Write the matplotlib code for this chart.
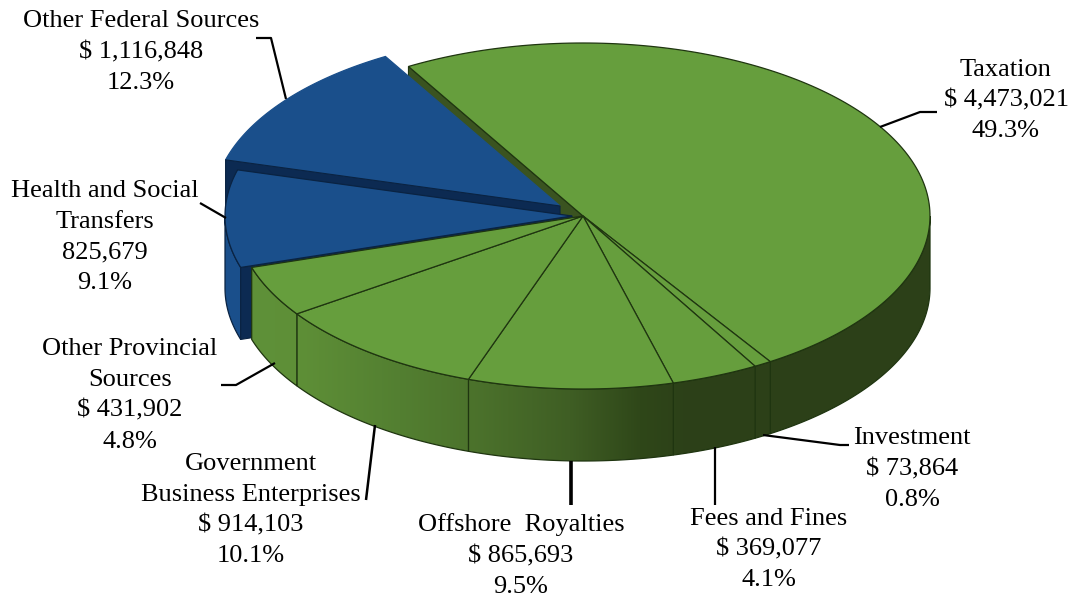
import numpy as np
import matplotlib
matplotlib.use("Agg")
import matplotlib.pyplot as plt
from matplotlib.colors import to_rgb
from matplotlib.patches import Polygon

plt.rcParams["font.family"] = ["Liberation Serif", "DejaVu Serif"]

# revenue by source, clockwise from the top of the pie
sources = ["Taxation", "Investment", "Fees and Fines", "Offshore  Royalties",
           "Government\nBusiness Enterprises", "Other Provincial\nSources",
           "Health and Social\nTransfers", "Other Federal Sources"]
amounts = [4473021, 73864, 369077, 865693, 914103, 431902, 825679, 1116848]
amount_labels = ["$ 4,473,021", "$ 73,864", "$ 369,077", "$ 865,693",
                 "$ 914,103", "$ 431,902", "825,679", "$ 1,116,848"]
shares = ["49.3%", "0.8%", "4.1%", "9.5%", "10.1%", "4.8%", "9.1%", "12.3%"]

# layout in pixels
CX, CY = 583, 216
RX, RY = 347, 173
DEPTH = 72
START = 120.2
HEALTH_C = (572, 216)
FEDERAL_C = (560, 206)

GREEN = "#669E3D"
BLUE = "#1A4F8B"
NAVY = "#0C2A52"
OLIVE = "#3A5320"
LINE_G = "#1F3510"
LINE_B = "#0A2342"

# side wall shading runs left to right across the pie
SHADE_X = [250, 300, 400, 470, 570, 640, 690, 935]
SHADE_C = ["#5F9139", "#5E8F37", "#537F31", "#4C732C", "#3F5E24", "#2F4719", "#2C4018", "#2D4119"]
shade_rgb = np.array([to_rgb(c) for c in SHADE_C])
grad_x = np.linspace(SHADE_X[0], SHADE_X[-1], 686)
gradient = np.dstack([np.interp(grad_x, SHADE_X, shade_rgb[:, i]) for i in range(3)])


def rim(c, t0, t1, n=160):
    t = np.radians(np.linspace(t0, t1, n))
    return np.column_stack([c[0] + RX * np.cos(t), c[1] - RY * np.sin(t)])


def top_face(ax, c, t0, t1, color, edge):
    pts = np.vstack([[c], rim(c, t0, t1)])
    ax.add_patch(Polygon(pts, closed=True, facecolor=color, edgecolor=edge, linewidth=0.9))


def cut_face(ax, c, t, color, edge):
    p = rim(c, t, t, 1)[0]
    pts = [c, p, (p[0], p[1] + DEPTH), (c[0], c[1] + DEPTH)]
    ax.add_patch(Polygon(pts, closed=True, facecolor=color, edgecolor=edge, linewidth=0.8))


def outer_wall(ax, c, t0, t1, color, edge):
    # only the part of the rim facing the viewer
    lo, hi = max(min(t0, t1), -180), min(max(t0, t1), 0)
    if hi <= lo:
        return
    pts = rim(c, lo, hi)
    outline = np.vstack([pts, pts[::-1] + [0, DEPTH]])
    if color is None:
        clip = Polygon(outline, closed=True, fill=False, edgecolor="none")
        ax.add_patch(clip)
        im = ax.imshow(gradient, extent=(SHADE_X[0], SHADE_X[-1], 596, 0), aspect="auto",
                       interpolation="bilinear", zorder=1)
        im.set_clip_path(clip)
    else:
        ax.add_patch(Polygon(outline, closed=True, facecolor=color, edgecolor="none"))
    ax.add_patch(Polygon(outline, closed=True, fill=False, edgecolor=edge, linewidth=0.9))


edges = START - np.concatenate([[0], np.cumsum(amounts)]) / np.sum(amounts) * 360

fig = plt.figure(figsize=(10.7, 5.96), dpi=100)
ax = fig.add_axes([0, 0, 1, 1])
ax.axis("off")

centre = (CX, CY)

# back of the pie first, then the pulled-out blue slices, then the green front
cut_face(ax, centre, edges[0], OLIVE, LINE_G)

top_face(ax, FEDERAL_C, edges[7], edges[8], BLUE, BLUE)
cut_face(ax, FEDERAL_C, edges[7], NAVY, LINE_B)

outer_wall(ax, HEALTH_C, edges[6], edges[7], BLUE, LINE_B)
cut_face(ax, HEALTH_C, edges[6], NAVY, LINE_B)
top_face(ax, HEALTH_C, edges[6], edges[7], BLUE, LINE_B)

for i in range(6):
    outer_wall(ax, centre, edges[i], edges[i + 1], None, LINE_G)
for i in range(6):
    top_face(ax, centre, edges[i], edges[i + 1], GREEN, LINE_G)

# callouts
leaders = [
    ([880, 920, 937], [127, 112, 112], 1.6),
    ([763, 840, 849], [435, 445, 445], 1.6),
    ([715, 715], [447, 505], 1.6),
    ([571, 571], [461, 505], 2.6),
    ([375, 366], [425, 500], 1.8),
    ([275, 236, 221], [363, 385, 385], 1.6),
    ([226, 200], [218, 203], 1.6),
    ([286, 271, 256], [99, 38, 38], 1.6),
]
for xs, ys, lw in leaders:
    ax.plot(xs, ys, color="black", linewidth=lw, solid_capstyle="butt")

label_x = [1006, 912, 769, 521, 251, 130, 105, 141]
label_y = [100.5, 469, 549.5, 555.5, 510, 395.5, 237, 52]

for name, amt, pct, x, y in zip(sources, amount_labels, shares, label_x, label_y):
    ax.text(x, y, f"{name}\n{amt}\n{pct}", ha="center", va="center",
            fontsize=19, color="black", linespacing=1.51)

ax.set_xlim(0, 1070)
ax.set_ylim(596, 0)
fig.savefig("out.png", dpi=100, facecolor="white")
